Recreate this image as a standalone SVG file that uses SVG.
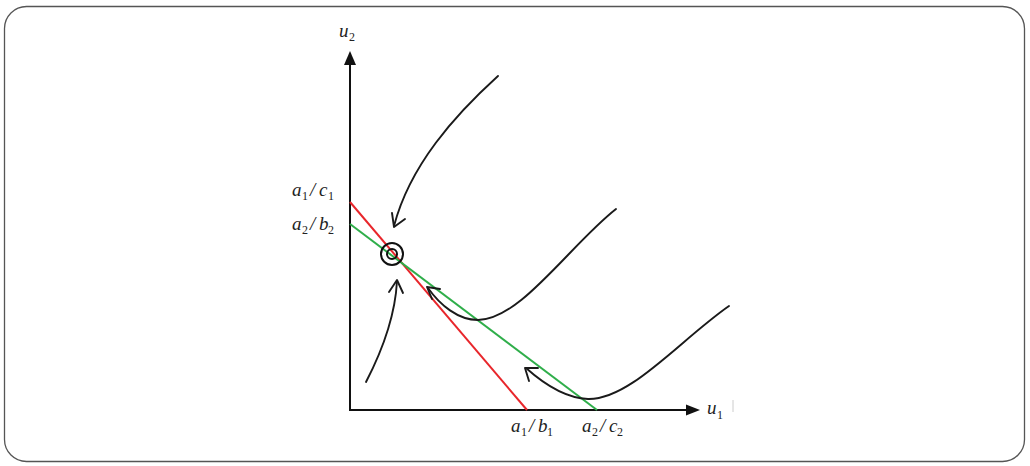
<svg xmlns="http://www.w3.org/2000/svg" width="1030" height="466" viewBox="0 0 1030 466">
<style>
.lbl{font-family:"Liberation Serif","DejaVu Serif",serif;font-style:italic;font-size:19px;fill:#222}
.sub{font-size:12px;font-style:normal}
.curve{fill:none;stroke:#1a1a1a;stroke-width:1.9;stroke-linecap:round;stroke-linejoin:round}
.axis{stroke:#111;stroke-width:2;fill:none}
</style>
<rect x="4.5" y="6.5" width="1020" height="455" rx="22" fill="#fff" stroke="#555" stroke-width="1.3"/>
<g id="axes">
<line class="axis" x1="350" y1="411" x2="350" y2="60"/>
<polygon points="350,51 344,65 356,65" fill="#111"/>
<line class="axis" x1="349" y1="410" x2="690" y2="410"/>
<polygon points="700,410 686,404.5 686,415.5" fill="#111"/>
<line x1="733" y1="400" x2="733" y2="412" stroke="#ccc" stroke-width="1"/>
</g>
<g id="red-line"><line x1="350" y1="202" x2="527" y2="410" stroke="#e8262b" stroke-width="2"/></g>
<g id="green-line"><line x1="350" y1="224" x2="597" y2="410" stroke="#2fae4a" stroke-width="2"/></g>
<g id="equilibrium">
<circle cx="392" cy="254" r="11" fill="none" stroke="#111" stroke-width="2"/>
<circle cx="392" cy="254" r="5" fill="none" stroke="#111" stroke-width="2"/>
</g>
<g id="connectors">
<path class="curve" d="M498,76 C455,115 410,165 394,226"/>
<polyline class="curve" points="392,213 394,227 405,219"/>
<path class="curve" d="M366,382 C380,355 395,320 397,281"/>
<polyline class="curve" points="389,292 397,280 403,293"/>
<path class="curve" d="M616,209 C570,245 520,320 478,320 C458,320 440,305 428,288"/>
<polyline class="curve" points="432,299 427,287 440,289"/>
<path class="curve" d="M729,306 C680,340 630,400 588,399 C565,398 545,385 526,368"/>
<polyline class="curve" points="529,381 525,368 538,368"/>
</g>
<g id="labels">
<text class="lbl"><tspan x="339" y="37">u</tspan><tspan class="sub" x="349" y="41">2</tspan></text>
<text class="lbl"><tspan x="707" y="414">u</tspan><tspan class="sub" x="717" y="419">1</tspan></text>
<text class="lbl"><tspan x="292" y="196">a</tspan><tspan class="sub" x="302" y="200">1</tspan><tspan x="310" y="196">/</tspan><tspan x="319" y="196">c</tspan><tspan class="sub" x="328" y="200">1</tspan></text>
<text class="lbl"><tspan x="292" y="230">a</tspan><tspan class="sub" x="302" y="234">2</tspan><tspan x="310" y="230">/</tspan><tspan x="319" y="230">b</tspan><tspan class="sub" x="328" y="234">2</tspan></text>
<text class="lbl"><tspan x="511" y="432">a</tspan><tspan class="sub" x="521" y="436">1</tspan><tspan x="529" y="432">/</tspan><tspan x="538" y="432">b</tspan><tspan class="sub" x="547" y="436">1</tspan></text>
<text class="lbl"><tspan x="582" y="432">a</tspan><tspan class="sub" x="592" y="436">2</tspan><tspan x="600" y="432">/</tspan><tspan x="609" y="432">c</tspan><tspan class="sub" x="617" y="436">2</tspan></text>
</g>
</svg>
